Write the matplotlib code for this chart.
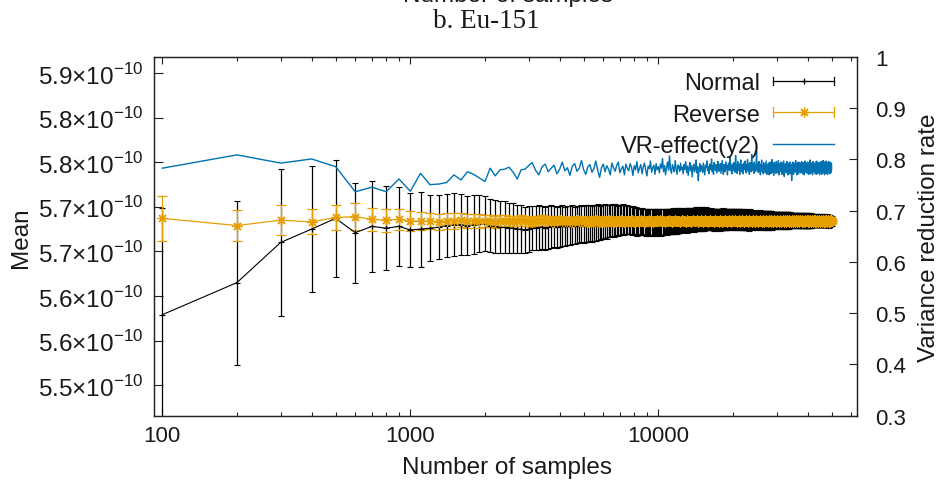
import numpy as np
import matplotlib
matplotlib.use('Agg')
import matplotlib.pyplot as plt
from matplotlib.lines import Line2D
from matplotlib.legend_handler import HandlerBase
from matplotlib.ticker import LogLocator, NullFormatter

# number of samples: 100, 200, ..., 50000
samples = np.arange(100, 50001, 100)

# mean and error, in units of 1e-13
normal_mean = [
    5579, 5615, 5660, 5675, 5687, 5671, 5678, 5676, 5678, 5674, 5675, 5676, 5677, 5679, 5680, 5680, 5679, 5680, 5681, 5681, 5679, 5678, 5677, 5677, 5676,
    5676, 5675, 5675, 5674, 5675, 5676, 5676, 5677, 5677, 5676, 5677, 5678, 5678, 5677, 5678, 5679, 5678, 5679, 5679, 5680, 5679, 5680, 5680, 5681, 5680,
    5681, 5681, 5682, 5681, 5682, 5682, 5683, 5682, 5683, 5683, 5684, 5683, 5684, 5684, 5685, 5684, 5685, 5685, 5684, 5685, 5685, 5686, 5685, 5685, 5686,
    5685, 5685, 5684, 5685, 5684, 5684, 5683, 5684, 5683, 5683, 5684, 5683, 5683, 5682, 5683, 5683, 5682, 5683, 5683, 5682, 5683, 5683, 5682, 5683, 5683,
    5683, 5683, 5682, 5683, 5683, 5684, 5683, 5683, 5684, 5684, 5683, 5684, 5684, 5684, 5685, 5684, 5684, 5685, 5684, 5685, 5685, 5684, 5685, 5685, 5685,
    5685, 5685, 5686, 5685, 5685, 5686, 5685, 5686, 5686, 5685, 5686, 5686, 5686, 5685, 5686, 5686, 5687, 5686, 5686, 5686, 5687, 5686, 5686, 5687, 5686,
    5686, 5687, 5686, 5686, 5686, 5687, 5686, 5686, 5687, 5686, 5686, 5686, 5687, 5686, 5686, 5686, 5685, 5686, 5686, 5686, 5685, 5686, 5686, 5686, 5686,
    5686, 5686, 5685, 5686, 5686, 5686, 5686, 5687, 5686, 5686, 5686, 5686, 5686, 5685, 5686, 5686, 5686, 5686, 5686, 5685, 5686, 5686, 5686, 5685, 5686,
    5686, 5686, 5685, 5686, 5686, 5686, 5685, 5686, 5686, 5685, 5686, 5686, 5685, 5686, 5685, 5686, 5686, 5685, 5685, 5686, 5685, 5685, 5686, 5685, 5685,
    5685, 5685, 5686, 5685, 5685, 5685, 5684, 5685, 5685, 5686, 5685, 5685, 5685, 5685, 5684, 5685, 5685, 5685, 5686, 5685, 5685, 5684, 5685, 5685, 5685,
    5685, 5685, 5684, 5685, 5685, 5685, 5685, 5686, 5685, 5685, 5684, 5685, 5685, 5685, 5685, 5684, 5685, 5685, 5685, 5685, 5684, 5685, 5685, 5684, 5685,
    5685, 5684, 5685, 5685, 5685, 5684, 5685, 5685, 5684, 5685, 5685, 5685, 5684, 5685, 5685, 5684, 5685, 5685, 5685, 5684, 5685, 5685, 5684, 5685, 5685,
    5685, 5685, 5684, 5685, 5685, 5684, 5685, 5685, 5685, 5684, 5685, 5685, 5684, 5685, 5685, 5685, 5684, 5685, 5684, 5685, 5685, 5684, 5685, 5685, 5684,
    5685, 5685, 5684, 5685, 5684, 5685, 5685, 5684, 5685, 5685, 5684, 5685, 5684, 5685, 5685, 5684, 5685, 5684, 5685, 5685, 5684, 5685, 5684, 5685, 5685,
    5684, 5685, 5685, 5684, 5685, 5684, 5685, 5685, 5684, 5685, 5684, 5685, 5684, 5685, 5685, 5684, 5685, 5684, 5684, 5685, 5685, 5684, 5685, 5684, 5685,
    5684, 5685, 5684, 5685, 5684, 5685, 5684, 5684, 5685, 5684, 5685, 5684, 5685, 5684, 5684, 5685, 5684, 5685, 5684, 5684, 5685, 5684, 5684, 5685, 5684,
    5684, 5685, 5684, 5684, 5685, 5684, 5684, 5685, 5684, 5684, 5684, 5685, 5684, 5684, 5685, 5684, 5684, 5684, 5685, 5684, 5684, 5684, 5685, 5684, 5684,
    5684, 5684, 5685, 5684, 5684, 5684, 5684, 5685, 5684, 5684, 5684, 5684, 5685, 5684, 5684, 5684, 5684, 5684, 5685, 5684, 5684, 5684, 5684, 5684, 5685,
    5684, 5684, 5684, 5685, 5684, 5684, 5684, 5684, 5684, 5684, 5685, 5684, 5684, 5684, 5684, 5684, 5684, 5684, 5685, 5684, 5684, 5684, 5684, 5684, 5684,
    5684, 5684, 5684, 5684, 5684, 5685, 5684, 5684, 5684, 5684, 5684, 5684, 5684, 5684, 5683, 5684, 5684, 5684, 5684, 5684, 5684, 5684, 5684, 5684, 5684,
]
normal_err = [
    120, 92, 82, 71, 66, 56, 51, 47, 44, 41, 42, 37, 36, 35, 35, 34, 33, 33, 32, 31, 30, 30, 29, 29, 28,
    28, 27, 27, 26, 26, 25, 25, 25, 24, 24, 24, 24, 23, 23, 23, 23, 22, 22, 22, 22, 21, 21, 21, 21, 21,
    21, 21, 20, 20, 20, 20, 20, 19, 19, 19, 19, 19, 18, 18, 18, 18, 18, 17, 17, 17, 17, 17, 17, 16, 16,
    16, 16, 16, 16, 16, 16, 16, 15, 15, 15, 15, 15, 15, 15, 15, 15, 15, 15, 15, 15, 15, 15, 15, 15, 15,
    15, 15, 15, 15, 15, 14, 14, 15, 14, 14, 14, 14, 14, 14, 14, 14, 14, 14, 14, 14, 14, 13, 14, 13, 13,
    13, 13, 13, 13, 14, 13, 13, 13, 13, 13, 13, 13, 13, 13, 13, 13, 13, 13, 13, 13, 13, 13, 13, 13, 13,
    13, 13, 13, 12, 12, 13, 12, 12, 12, 12, 12, 12, 12, 12, 12, 12, 12, 12, 12, 12, 12, 12, 12, 12, 12,
    12, 12, 12, 12, 12, 12, 12, 12, 12, 12, 12, 12, 12, 11, 12, 11, 11, 11, 11, 11, 11, 11, 11, 11, 11,
    11, 12, 11, 11, 11, 11, 11, 11, 11, 11, 11, 11, 11, 11, 11, 11, 11, 11, 11, 11, 11, 11, 11, 11, 11,
    11, 11, 11, 11, 11, 10, 11, 11, 10, 11, 10, 10, 10, 10, 10, 10, 10, 10, 10, 10, 10, 10, 10, 10, 10,
    10, 10, 10, 10, 10, 10, 10, 10, 10, 10, 10, 10, 10, 10, 10, 10, 10, 10, 10, 10, 10, 10, 10, 10, 10,
    10, 10, 10, 10, 10, 10, 10, 10, 10, 10, 10, 9, 10, 9, 9, 9, 9, 9, 9, 9, 9, 9, 9, 9, 9,
    9, 9, 9, 9, 9, 9, 9, 9, 9, 9, 9, 9, 9, 9, 9, 9, 9, 9, 9, 9, 9, 9, 9, 9, 9,
    9, 9, 9, 9, 9, 9, 9, 9, 9, 9, 9, 9, 8, 9, 8, 8, 8, 8, 8, 8, 8, 8, 8, 8, 8,
    8, 8, 8, 8, 8, 8, 8, 8, 8, 8, 8, 8, 8, 8, 8, 8, 8, 8, 8, 8, 8, 8, 8, 8, 8,
    8, 8, 8, 8, 8, 8, 8, 8, 8, 8, 8, 8, 8, 8, 8, 8, 8, 8, 8, 8, 8, 8, 8, 8, 8,
    8, 8, 8, 8, 8, 8, 8, 8, 8, 8, 8, 8, 7, 8, 7, 7, 7, 7, 7, 7, 7, 7, 7, 7, 7,
    7, 7, 7, 7, 7, 7, 7, 7, 7, 7, 7, 7, 7, 7, 7, 7, 7, 7, 7, 7, 7, 7, 7, 7, 7,
    7, 7, 7, 7, 7, 7, 7, 7, 7, 7, 7, 7, 7, 7, 7, 7, 7, 7, 7, 7, 7, 7, 7, 7, 7,
    7, 7, 7, 7, 7, 7, 7, 7, 7, 7, 7, 7, 7, 6, 7, 6, 6, 6, 6, 6, 6, 6, 6, 6, 6,
]
reverse_mean = [
    5687, 5679, 5685, 5683, 5688, 5689, 5686, 5685, 5686, 5684, 5684, 5684, 5683, 5684, 5684, 5685, 5684, 5684, 5684, 5684, 5684, 5683, 5684, 5684, 5684,
    5684, 5684, 5685, 5684, 5684, 5683, 5684, 5684, 5685, 5684, 5684, 5684, 5683, 5684, 5685, 5684, 5684, 5684, 5684, 5683, 5684, 5685, 5684, 5684, 5684,
    5684, 5683, 5684, 5684, 5684, 5685, 5684, 5684, 5683, 5684, 5684, 5684, 5685, 5684, 5684, 5683, 5684, 5684, 5684, 5684, 5685, 5684, 5683, 5684, 5684,
    5684, 5684, 5685, 5684, 5683, 5684, 5684, 5684, 5684, 5685, 5684, 5684, 5683, 5684, 5684, 5684, 5685, 5684, 5684, 5683, 5684, 5684, 5684, 5685, 5684,
    5684, 5685, 5684, 5684, 5684, 5683, 5684, 5684, 5684, 5685, 5684, 5684, 5684, 5683, 5684, 5684, 5685, 5684, 5684, 5684, 5684, 5683, 5684, 5684, 5685,
    5684, 5684, 5684, 5683, 5684, 5685, 5684, 5684, 5684, 5684, 5683, 5684, 5685, 5684, 5684, 5684, 5684, 5685, 5684, 5683, 5684, 5684, 5684, 5685, 5684,
    5684, 5683, 5684, 5684, 5685, 5684, 5684, 5684, 5683, 5684, 5684, 5685, 5684, 5684, 5684, 5684, 5683, 5684, 5684, 5685, 5684, 5684, 5684, 5684, 5683,
    5684, 5684, 5685, 5684, 5684, 5683, 5684, 5684, 5684, 5685, 5684, 5684, 5684, 5684, 5683, 5684, 5685, 5684, 5684, 5684, 5683, 5684, 5684, 5685, 5684,
    5684, 5684, 5684, 5685, 5684, 5684, 5683, 5684, 5684, 5684, 5685, 5684, 5684, 5683, 5684, 5684, 5684, 5685, 5684, 5684, 5684, 5683, 5684, 5684, 5684,
    5685, 5684, 5684, 5684, 5683, 5684, 5684, 5685, 5684, 5684, 5684, 5684, 5683, 5684, 5684, 5685, 5684, 5684, 5684, 5684, 5683, 5684, 5685, 5684, 5684,
    5684, 5684, 5683, 5684, 5684, 5685, 5684, 5684, 5684, 5684, 5683, 5684, 5684, 5685, 5684, 5684, 5684, 5683, 5684, 5684, 5684, 5685, 5684, 5684, 5684,
    5683, 5684, 5684, 5685, 5684, 5684, 5684, 5684, 5683, 5684, 5685, 5684, 5684, 5684, 5684, 5683, 5684, 5684, 5685, 5684, 5684, 5684, 5683, 5684, 5684,
    5684, 5685, 5684, 5684, 5684, 5683, 5684, 5684, 5684, 5685, 5684, 5684, 5683, 5684, 5684, 5684, 5685, 5684, 5684, 5684, 5683, 5684, 5684, 5685, 5684,
    5684, 5684, 5683, 5684, 5685, 5684, 5684, 5684, 5684, 5683, 5684, 5684, 5685, 5684, 5684, 5684, 5683, 5684, 5684, 5684, 5685, 5684, 5684, 5683, 5684,
    5684, 5685, 5684, 5684, 5683, 5684, 5684, 5684, 5685, 5684, 5684, 5684, 5683, 5684, 5684, 5685, 5684, 5684, 5684, 5683, 5684, 5684, 5684, 5685, 5684,
    5684, 5684, 5684, 5683, 5684, 5685, 5684, 5684, 5684, 5683, 5684, 5684, 5684, 5685, 5684, 5684, 5683, 5684, 5684, 5684, 5685, 5684, 5684, 5684, 5683,
    5684, 5684, 5685, 5684, 5684, 5683, 5684, 5684, 5684, 5685, 5684, 5684, 5684, 5683, 5684, 5684, 5685, 5684, 5684, 5684, 5683, 5684, 5684, 5684, 5685,
    5684, 5683, 5684, 5684, 5685, 5684, 5684, 5684, 5683, 5684, 5684, 5685, 5684, 5684, 5684, 5683, 5684, 5684, 5684, 5685, 5684, 5684, 5683, 5684, 5684,
    5684, 5684, 5685, 5684, 5684, 5684, 5683, 5684, 5684, 5685, 5684, 5684, 5684, 5683, 5684, 5684, 5684, 5685, 5684, 5684, 5683, 5684, 5684, 5684, 5684,
    5685, 5684, 5684, 5683, 5684, 5684, 5684, 5685, 5684, 5684, 5684, 5683, 5684, 5684, 5684, 5685, 5684, 5684, 5683, 5684, 5684, 5684, 5684, 5685, 5684,
]
reverse_err = [
    25, 17, 17, 14, 14, 15, 13, 13, 12, 11, 10, 9, 9, 9, 9, 8, 8, 8, 8, 7, 7, 7, 7, 7, 6,
    6, 6, 6, 6, 6, 6, 6, 6, 6, 6, 6, 6, 5, 6, 5, 5, 5, 5, 5, 5, 5, 5, 5, 5, 5,
    5, 5, 5, 5, 5, 5, 5, 5, 5, 5, 5, 4, 5, 4, 4, 4, 4, 4, 4, 4, 4, 4, 4, 4, 4,
    4, 4, 4, 4, 4, 4, 4, 4, 4, 4, 4, 4, 4, 4, 4, 4, 4, 4, 4, 4, 4, 4, 4, 4, 4,
    3, 3, 3, 3, 3, 3, 3, 3, 3, 3, 3, 3, 3, 3, 3, 3, 3, 3, 3, 3, 3, 3, 3, 3, 3,
    3, 3, 3, 3, 3, 3, 3, 3, 3, 3, 3, 3, 3, 3, 3, 3, 3, 3, 3, 3, 3, 3, 3, 3, 3,
    3, 3, 3, 3, 3, 3, 3, 3, 3, 3, 3, 3, 3, 3, 3, 3, 3, 3, 3, 3, 3, 3, 3, 3, 3,
    3, 3, 3, 3, 3, 3, 3, 3, 3, 3, 3, 3, 3, 3, 3, 3, 3, 3, 3, 3, 3, 3, 3, 3, 3,
    3, 3, 3, 3, 3, 3, 3, 3, 3, 3, 3, 3, 3, 3, 3, 3, 3, 3, 3, 3, 3, 3, 3, 3, 3,
    3, 3, 3, 3, 3, 3, 3, 3, 3, 3, 3, 3, 3, 3, 3, 3, 3, 3, 3, 3, 3, 3, 3, 3, 3,
    3, 3, 3, 3, 3, 3, 3, 3, 3, 3, 3, 3, 3, 3, 3, 3, 3, 3, 3, 3, 3, 3, 3, 3, 3,
    3, 3, 3, 3, 3, 3, 3, 3, 3, 3, 3, 3, 3, 3, 3, 3, 3, 3, 3, 3, 3, 3, 3, 3, 3,
    2, 2, 2, 2, 2, 2, 2, 2, 2, 2, 2, 2, 2, 2, 2, 2, 2, 2, 2, 2, 2, 2, 2, 2, 2,
    2, 2, 2, 2, 2, 2, 2, 2, 2, 2, 2, 2, 2, 2, 2, 2, 2, 2, 2, 2, 2, 2, 2, 2, 2,
    2, 2, 2, 2, 2, 2, 2, 2, 2, 2, 2, 2, 2, 2, 2, 2, 2, 2, 2, 2, 2, 2, 2, 2, 2,
    2, 2, 2, 2, 2, 2, 2, 2, 2, 2, 2, 2, 2, 2, 2, 2, 2, 2, 2, 2, 2, 2, 2, 2, 2,
    2, 2, 2, 2, 2, 2, 2, 2, 2, 2, 2, 2, 2, 2, 2, 2, 2, 2, 2, 2, 2, 2, 2, 2, 2,
    2, 2, 2, 2, 2, 2, 2, 2, 2, 2, 2, 2, 2, 2, 2, 2, 2, 2, 2, 2, 2, 2, 2, 2, 2,
    2, 2, 2, 2, 2, 2, 2, 2, 2, 2, 2, 2, 2, 2, 2, 2, 2, 2, 2, 2, 2, 2, 2, 2, 2,
    2, 2, 2, 2, 2, 2, 2, 2, 2, 2, 2, 2, 2, 2, 2, 2, 2, 2, 2, 2, 2, 2, 2, 2, 2,
]
# variance reduction rate, x1000
vr_effect = [
    783, 809, 793, 801, 786, 737, 746, 737, 762, 738, 773, 751, 752, 755, 770, 760, 776, 771, 764, 757, 783, 768, 780, 781, 785,
    775, 762, 780, 781, 788, 794, 779, 770, 786, 791, 776, 783, 789, 772, 781, 795, 778, 784, 769, 787, 792, 777, 783, 798, 780,
    771, 786, 790, 775, 782, 797, 779, 765, 784, 791, 776, 788, 781, 770, 793, 784, 777, 789, 795, 774, 782, 787, 770, 791, 783,
    778, 792, 785, 769, 788, 780, 796, 774, 783, 790, 772, 786, 793, 779, 768, 787, 782, 797, 775, 784, 789, 771, 792, 780, 786,
    774, 791, 783, 802, 776, 788, 770, 785, 795, 779, 807, 781, 773, 790, 784, 776, 798, 782, 771, 789, 786, 777, 793, 780, 785,
    772, 790, 781, 796, 775, 787, 769, 783, 794, 778, 788, 766, 785, 791, 776, 782, 799, 774, 786, 759, 780, 792, 777, 788, 783,
    775, 793, 781, 770, 789, 784, 797, 778, 786, 772, 791, 780, 785, 801, 776, 788, 771, 794, 783, 779, 790, 774, 787, 796, 781,
    777, 789, 792, 773, 785, 798, 780, 771, 790, 784, 776, 795, 782, 788, 770, 786, 793, 779, 784, 805, 778, 787, 772, 791, 783,
    779, 794, 784, 775, 808, 781, 789, 773, 796, 786, 779, 791, 771, 787, 799, 782, 776, 790, 784, 772, 793, 785, 780, 797, 788,
    774, 789, 783, 800, 777, 791, 785, 771, 794, 782, 787, 776, 810, 783, 779, 792, 786, 773, 795, 781, 788, 777, 790, 816, 784,
    780, 792, 775, 787, 796, 778, 785, 770, 791, 783, 799, 776, 788, 781, 772, 794, 786, 779, 790, 774, 787, 797, 782, 771, 789,
    784, 776, 793, 781, 770, 789, 795, 778, 786, 772, 791, 783, 800, 775, 788, 781, 769, 794, 786, 777, 790, 782, 773, 796, 785,
    779, 791, 774, 787, 798, 781, 770, 792, 784, 776, 789, 795, 778, 786, 771, 793, 782, 788, 775, 797, 780, 767, 790, 785, 777,
    792, 781, 774, 789, 796, 779, 786, 770, 793, 783, 777, 790, 785, 772, 795, 781, 788, 776, 791, 759, 784, 789, 776, 795, 782,
    771, 788, 793, 780, 776, 791, 784, 798, 775, 787, 781, 770, 792, 786, 778, 795, 783, 772, 789, 780, 794, 777, 786, 791, 774,
    788, 781, 796, 775, 785, 790, 772, 787, 794, 779, 784, 770, 791, 786, 777, 797, 782, 789, 775, 792, 780, 786, 773, 795, 783,
    778, 790, 785, 771, 794, 781, 788, 776, 799, 783, 772, 791, 786, 779, 793, 775, 787, 782, 770, 796, 784, 789, 777, 792, 781,
    787, 774, 793, 782, 778, 790, 785, 771, 797, 781, 788, 776, 792, 784, 773, 795, 780, 789, 777, 791, 783, 770, 794, 786, 779,
    790, 782, 775, 796, 784, 771, 788, 793, 779, 786, 774, 798, 781, 789, 776, 792, 783, 770, 795, 787, 778, 791, 784, 773, 797,
    781, 788, 776, 792, 785, 771, 794, 780, 787, 774, 796, 783, 789, 777, 791, 782, 772, 795, 786, 779, 790, 784, 775, 793, 781,
]

x_ticks = [100, 1000, 10000]
x_tick_labels = ['100', '1000', '10000']
mean_ticks = [5.50, 5.55, 5.60, 5.65, 5.70, 5.75, 5.80, 5.85]   # x1e-10
mean_tick_labels = ['5.5', '5.6', '5.6', '5.7', '5.7', '5.8', '5.8', '5.9']
vr_ticks = [0.3, 0.4, 0.5, 0.6, 0.7, 0.8, 0.9, 1.0]
vr_tick_labels = ['0.3', '0.4', '0.5', '0.6', '0.7', '0.8', '0.9', '1']

BLACK = '#000000'
ORANGE = '#E69F00'
BLUE = '#0072B2'
TEXT = '#1a1a1a'

plt.rcParams['font.family'] = 'Liberation Sans'
plt.rcParams['mathtext.fontset'] = 'custom'
plt.rcParams['mathtext.rm'] = 'Liberation Sans'
plt.rcParams['text.color'] = TEXT
plt.rcParams['axes.labelcolor'] = TEXT


class ErrKey(HandlerBase):
    """gnuplot-style key sample: flat bar with end caps and a point in the middle."""

    def __init__(self, color, marker, ms, cap):
        super().__init__()
        self.color = color
        self.marker = marker
        self.ms = ms
        self.cap = cap

    def create_artists(self, legend, orig_handle, xdescent, ydescent,
                       width, height, fontsize, trans):
        x0, x1 = -xdescent, width - xdescent
        y = (height - ydescent) / 2
        arts = [Line2D([x0, x1], [y, y], color=self.color, lw=0.9)]
        for x in (x0, x1):
            arts.append(Line2D([x, x], [y - self.cap, y + self.cap],
                               color=self.color, lw=0.9))
        arts.append(Line2D([(x0 + x1) / 2], [y], ls='', marker=self.marker,
                           ms=self.ms, mew=0.9, color=self.color))
        for a in arts:
            a.set_transform(trans)
        return arts


nm = np.array(normal_mean) * 1e-3   # -> units of 1e-10
ne = np.array(normal_err) * 1e-3
rm = np.array(reverse_mean) * 1e-3
re = np.array(reverse_err) * 1e-3
vr = np.array(vr_effect) * 1e-3

fig = plt.figure(figsize=(9.46, 4.81), dpi=100)
ax = fig.add_axes([0.1628, 0.1337, 0.7428, 0.7457])
ax2 = ax.twinx()

eb_normal = ax.errorbar(samples, nm, yerr=ne, color=BLACK, lw=0.8,
                        elinewidth=0.9, capsize=2.5, capthick=0.9,
                        marker='+', ms=4, mew=0.8)
eb_reverse = ax.errorbar(samples, rm, yerr=re, color=ORANGE, lw=0.9,
                         elinewidth=0.9, capsize=3.6, capthick=0.9,
                         marker=(8, 2, 0), ms=7.2, mew=0.9)
vr_line, = ax2.plot(samples, vr, color=BLUE, lw=1.0)

ax.set_xscale('log')
ax.set_xlim(92.6, 63100)
ax.set_ylim(5.4658, 5.8679)
ax2.set_ylim(0.3, 1.0)

ax.set_xticks(x_ticks, x_tick_labels)
ax.xaxis.set_minor_locator(LogLocator(base=10, subs=np.arange(2, 10)))
ax.xaxis.set_minor_formatter(NullFormatter())
ax.set_yticks(mean_ticks, [f'{s}×10$^{{\\mathregular{{-10}}}}$' for s in mean_tick_labels])
ax2.set_yticks(vr_ticks, vr_tick_labels)

ax.tick_params(axis='x', which='both', direction='in', top=True, bottom=True,
               width=0.8, colors='#222222', labelcolor=TEXT)
ax.tick_params(axis='x', which='major', length=5, pad=7, labelsize=16)
ax.tick_params(axis='x', which='minor', length=3)
ax.tick_params(axis='y', direction='in', length=6.5, width=0.8, pad=8,
               labelsize=17.5, right=False, colors='#222222', labelcolor=TEXT)
ax2.tick_params(axis='y', direction='in', length=6, width=0.8, pad=13,
                labelsize=16, colors='#222222', labelcolor=TEXT)

for a in (ax, ax2):
    for sp in a.spines.values():
        sp.set_linewidth(0.9)
        sp.set_color('#222222')

ax.set_xlabel('Number of samples', fontsize=17.5)
ax.xaxis.set_label_coords(0.5023, -0.112)
ax.set_ylabel('Mean', fontsize=17.5)
ax.yaxis.set_label_coords(-0.1736, 0.5)
ax2.set_ylabel('Variance reduction rate', fontsize=17.5)
ax2.yaxis.set_label_coords(1.0872, 0.5)

ax2.legend([eb_normal, eb_reverse, vr_line],
           ['Normal', 'Reverse', 'VR-effect(y2)'],
           handler_map={eb_normal: ErrKey(BLACK, '+', 4, 3.0),
                        eb_reverse: ErrKey(ORANGE, (8, 2, 0), 7.2, 3.6)},
           loc='upper right', bbox_to_anchor=(0.9677, 0.958),
           frameon=False, markerfirst=False, fontsize=17,
           handlelength=2.58, handletextpad=0.55, labelspacing=0.4,
           borderpad=0, borderaxespad=0)

fig.text(0.514, 1 - 22 / 481, 'b. Eu-151', family='Liberation Serif',
         fontsize=19.5, ha='center', va='center')
# x label of the panel above, cut by the top edge
fig.text(0.537, 1 - 2 / 481, 'Number of samples', fontsize=17.5,
         ha='center', va='baseline')

fig.savefig('out.png', dpi=100)
